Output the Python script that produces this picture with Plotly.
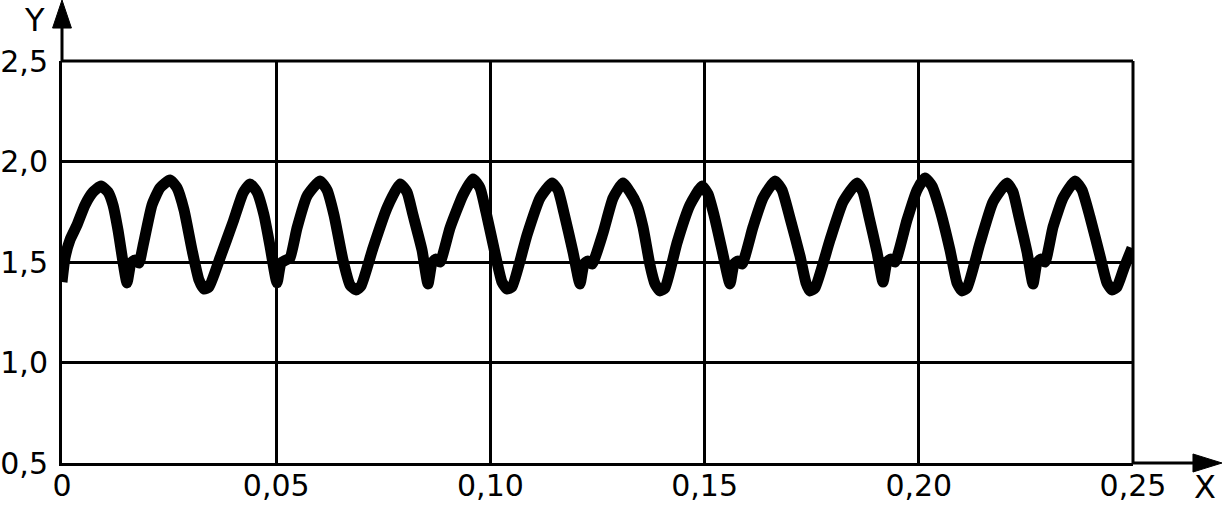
import plotly.graph_objects as go

# time in milliseconds, converted to seconds below
t_ms = [0, 0.70, 1.87, 3.50, 5.37, 7.24, 9.10, 10.74, 11.90, 13.07, 14.24, 15.17, 16.11, 17.04, 17.97,
        18.91, 21.01, 22.88, 25.21, 26.84, 28.48, 30.35, 31.98, 33.15, 34.31, 36.88, 39.92, 42.25,
        43.88, 45.52, 47.15, 48.55, 50.19, 51.12, 52.29, 53.22, 54.86, 57.19, 60.22, 61.86, 63.49,
        65.59, 67.23, 68.63, 69.80, 72.60, 75.86, 78.90, 80.53, 81.93, 84.03, 85.43, 86.37, 87.30,
        88.24, 90.57, 93.60, 95.94, 97.57, 98.97, 101.07, 102.71, 103.88, 105.04, 108.54, 111.58,
        114.38, 115.78, 117.18, 119.28, 120.91, 121.85, 122.78, 123.72, 126.28, 128.62, 130.95,
        132.59, 134.22, 135.62, 137.25, 138.42, 139.59, 140.76, 143.56, 146.59, 149.39, 150.79,
        152.19, 154.06, 155.93, 156.86, 157.80, 158.73, 161.30, 163.63, 166.43, 168.07, 169.93,
        172.27, 173.67, 174.60, 175.77, 179.27, 182.31, 185.57, 186.97, 188.38, 190.24, 191.64,
        192.58, 193.51, 194.44, 197.25, 199.58, 201.45, 203.08, 204.95, 207.28, 208.92, 210.08,
        211.25, 214.29, 217.32, 220.59, 221.99, 223.39, 225.26, 226.66, 227.59, 228.53, 229.46,
        231.33, 233.66, 236.46, 238.10, 239.96, 242.30, 243.93, 245.10, 246.27, 247.90, 249.77]

y_vals = [1.400, 1.520, 1.610, 1.684, 1.784, 1.848, 1.878, 1.848, 1.784, 1.659, 1.500, 1.396, 1.495,
          1.510, 1.495, 1.580, 1.784, 1.869, 1.908, 1.869, 1.759, 1.560, 1.410, 1.366, 1.376, 1.520,
          1.699, 1.843, 1.888, 1.848, 1.734, 1.580, 1.396, 1.495, 1.510, 1.520, 1.669, 1.828, 1.903,
          1.858, 1.734, 1.510, 1.386, 1.361, 1.381, 1.570, 1.769, 1.888, 1.848, 1.734, 1.560, 1.391,
          1.495, 1.515, 1.500, 1.669, 1.833, 1.913, 1.869, 1.749, 1.545, 1.400, 1.366, 1.376, 1.634,
          1.818, 1.893, 1.858, 1.744, 1.550, 1.391, 1.490, 1.505, 1.490, 1.644, 1.818, 1.893, 1.848,
          1.784, 1.674, 1.485, 1.391, 1.356, 1.371, 1.595, 1.784, 1.878, 1.838, 1.734, 1.560, 1.391,
          1.490, 1.505, 1.490, 1.674, 1.818, 1.903, 1.858, 1.719, 1.530, 1.396, 1.356, 1.371, 1.610,
          1.799, 1.893, 1.848, 1.724, 1.550, 1.400, 1.500, 1.515, 1.500, 1.709, 1.858, 1.918, 1.878,
          1.759, 1.560, 1.396, 1.356, 1.371, 1.595, 1.799, 1.893, 1.848, 1.724, 1.550, 1.391, 1.495,
          1.515, 1.500, 1.674, 1.818, 1.903, 1.858, 1.724, 1.530, 1.396, 1.361, 1.376, 1.470, 1.570]

x_tick_vals = [0, 0.05, 0.10, 0.15, 0.20, 0.25]
x_tick_text = ["0", "0,05", "0,10", "0,15", "0,20", "0,25"]
y_tick_vals = [0.5, 1.0, 1.5, 2.0, 2.5]
y_tick_text = ["0,5", "1,0", "1,5", "2,0", "2,5"]

x_vals = [t / 1000.0 for t in t_ms]

FONT = "DejaVu Sans, Liberation Sans, sans-serif"
fig = go.Figure()
fig.add_trace(go.Scatter(x=x_vals, y=y_vals, mode="lines",
                         line=dict(color="black", width=11, shape="spline", smoothing=0.5),
                         showlegend=False, hoverinfo="skip"))

fig.update_layout(
    width=1224, height=507,
    margin=dict(l=62, r=91, t=61, b=44),
    paper_bgcolor="white", plot_bgcolor="white",
    font=dict(family=FONT, size=30, color="black"),
    xaxis=dict(range=[0, 0.25], tickvals=x_tick_vals, ticktext=x_tick_text,
               showgrid=True, gridcolor="black", gridwidth=3, zeroline=False,
               showline=True, linecolor="black", linewidth=3, mirror=False,
               ticks="", ticklabelstandoff=-6, automargin=False, fixedrange=True),
    yaxis=dict(range=[0.5, 2.5], tickvals=y_tick_vals, ticktext=y_tick_text,
               showgrid=True, gridcolor="black", gridwidth=3, zeroline=False,
               showline=True, linecolor="black", linewidth=3, mirror=False,
               ticks="", ticklabelstandoff=5, automargin=False, fixedrange=True),
    shapes=[
        # y-axis extension and arrow
        dict(type="line", xref="paper", yref="paper", x0=0, x1=0, y0=1, y1=1.09,
             line=dict(color="black", width=3)),
        dict(type="path", xref="paper", yref="paper",
             path="M -0.0088,1.082 L 0.0088,1.082 L 0,1.1517 Z",
             fillcolor="black", line=dict(color="black", width=1)),
        # x-axis extension and arrow
        dict(type="line", xref="paper", yref="paper", x0=1, x1=1.06, y0=0, y1=0,
             line=dict(color="black", width=3)),
        dict(type="path", xref="paper", yref="paper",
             path="M 1.056,-0.0224 L 1.056,0.0224 L 1.0831,0 Z",
             fillcolor="black", line=dict(color="black", width=1)),
        # right border at x=0.25 and top border at y=2.5
        dict(type="line", xref="paper", yref="paper", x0=1, x1=1, y0=0, y1=1,
             line=dict(color="black", width=3)),
        dict(type="line", xref="paper", yref="paper", x0=0, x1=1, y0=1, y1=1,
             line=dict(color="black", width=3)),
    ],
    annotations=[
        dict(text="Y", xref="paper", yref="paper", x=-0.0261, y=1.1517, showarrow=False,
             xanchor="center", yanchor="top", borderpad=0, font=dict(family=FONT, size=32)),
        dict(text="X", xref="paper", yref="paper", x=1.0672, y=-0.1095, showarrow=False,
             xanchor="center", yanchor="bottom", borderpad=0, font=dict(family=FONT, size=32)),
    ],
)

fig.write_html("out.html", config={"displayModeBar": False},
               post_script="document.body.style.margin='0';document.body.style.overflow='hidden';")
